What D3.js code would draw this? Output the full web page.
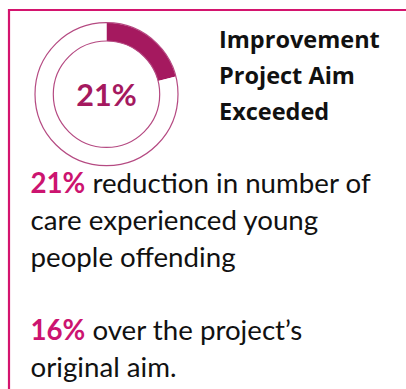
<!DOCTYPE html>
<html>
<head>
<meta charset="utf-8">
<script src="https://cdn.jsdelivr.net/npm/d3@7"></script>
<style>
  html, body { margin: 0; padding: 0; background: #fff; }
  svg { display: block; }
  text { font-family: Lato, "Open Sans", sans-serif; }
</style>
</head>
<body>
<svg id="card" width="406" height="389"></svg>
<script>
// values
const donutValues = [21, 79];            // achieved, rest
const centreLabel = ["21%"];
const titleLines = ["Improvement", "Project Aim", "Exceeded"];
const bodyHighlights = ["21%", "", "", null, "16%", ""];
const bodyTexts = [" reduction in number of", "care experienced young", "people offending", null, " over the project\u2019s", "original aim."];

const W = 406, H = 389;
const pink = "#d4146e";
const plum = "#a5195f";

const svg = d3.select("svg#card");

// frame: top and left rule only
svg.append("line")
  .attr("x1", 9).attr("x2", W).attr("y1", 10).attr("y2", 10)
  .attr("stroke", pink).attr("stroke-width", 2.2);
svg.append("line")
  .attr("x1", 9).attr("x2", 9).attr("y1", 9).attr("y2", H)
  .attr("stroke", pink).attr("stroke-width", 2.2);

// donut
const cx = 106.5, cy = 94.2, rOuter = 71.5, rInner = 53.2;
const g = svg.append("g").attr("transform", `translate(${cx},${cy})`);

const pie = d3.pie().sort(null).value(d => d);
const arc = d3.arc().innerRadius(rInner).outerRadius(rOuter);
const slices = pie(donutValues);

g.selectAll("path.slice")
  .data(slices)
  .enter()
  .append("path")
  .attr("class", "slice")
  .attr("d", arc)
  .attr("fill", (d, i) => i === 0 ? plum : "#fff");

// thin outline rings
[rOuter, rInner].forEach(r => {
  g.append("circle")
    .attr("r", r)
    .attr("fill", "none")
    .attr("stroke", "#b54a82")
    .attr("stroke-width", 1.2);
});

g.append("text")
  .attr("text-anchor", "middle")
  .attr("y", 11.5)
  .attr("font-size", 30.5)
  .attr("font-weight", 700)
  .attr("fill", plum)
  .text(centreLabel[0]);

// title
const title = svg.append("text")
  .attr("x", 220).attr("y", 47.5)
  .style("font-family", "'Open Sans', sans-serif")
  .attr("font-size", 23.5)
  .attr("font-weight", 700)
  .attr("fill", "#111");
titleLines.forEach((t, i) => {
  title.append("tspan")
    .attr("x", 219)
    .attr("y", 48 + i * 36)
    .text(t);
});

// body
const bodyX = 30.5, bodyY = 193.3, lineH = 36.7;
bodyTexts.forEach((t, i) => {
  if (t === null) return;
  const tx = svg.append("text")
    .attr("x", bodyX)
    .attr("y", bodyY + i * lineH)
    .attr("font-size", 27.7)
    .attr("fill", "#111");
  if (bodyHighlights[i]) {
    tx.append("tspan")
      .attr("font-weight", 700)
      .attr("fill", "#cc1470")
      .text(bodyHighlights[i]);
  }
  tx.append("tspan").attr("xml:space", "preserve").text(t);
});
</script>
</body>
</html>
